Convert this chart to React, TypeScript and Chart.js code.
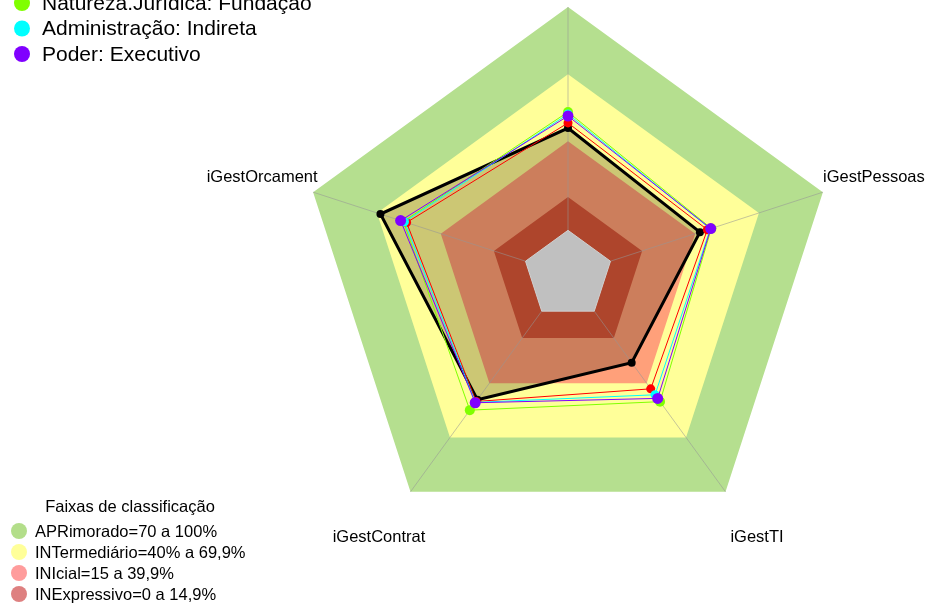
import React, { useEffect, useRef } from "react";
import { Chart, registerables } from "chart.js";

Chart.register(...registerables);

// Axes, clockwise from the top (top label lies outside the picture)
const categories = ["", "iGestPessoas", "iGestTI", "iGestContrat", "iGestOrcament"];

// Classification bands (upper limit of each band, %)
const bandNames = [
  "APRimorado=70 a 100%",
  "INTermediário=40% a 69,9%",
  "INIcial=15 a 39,9%",
  "INExpressivo=0 a 14,9%",
];
const bandLimits = [100, 69.9, 39.9, 14.9];
const bandColors = ["#B5DF8F", "#FFFF99", "#FFA07A", "#D8553A"];
const bandLegendColors = ["#B3DE8A", "#FFFF99", "#FF9C9C", "#DE8080"];

// Series values per axis
const entityValues = [45.8, 42.1, 28.5, 49.0, 68.3];
const geralValues = [48.1, 45.6, 43.0, 50.0, 56.0];
const naturezaValues = [53.0, 47.5, 50.1, 54.8, 57.5];
const administracaoValues = [52.1, 47.0, 46.3, 50.5, 57.0];
const poderValues = [51.2, 47.2, 48.3, 50.7, 58.8];

const legendNames = ["Natureza.Jurídica: Fundação", "Administração: Indireta", "Poder: Executivo"];
const legendColors = ["#80FF00", "#00FFFF", "#8000FF"];
const bandTitle = "Faixas de classificação";

const FONT = '"Liberation Sans", Arial, sans-serif';

const overlayPlugin = {
  id: "overlay",
  beforeDatasetDraw(chart: any, args: any) {
    if (args.index !== 4) return;
    const scale = chart.scales.r;
    const ctx = chart.ctx;
    ctx.save();
    ctx.strokeStyle = "rgba(150,150,150,0.55)";
    ctx.lineWidth = 1;
    for (let i = 0; i < categories.length; i++) {
      const a = scale.getPointPositionForValue(i, 0);
      const b = scale.getPointPositionForValue(i, 100);
      ctx.beginPath();
      ctx.moveTo(a.x, a.y);
      ctx.lineTo(b.x, b.y);
      ctx.stroke();
    }
    ctx.restore();
  },
  afterDraw(chart: any) {
    const scale = chart.scales.r;
    const ctx = chart.ctx;
    ctx.save();
    // axis labels
    ctx.fillStyle = "#000";
    ctx.font = `16.5px ${FONT}`;
    ctx.textAlign = "center";
    ctx.textBaseline = "middle";
    for (let i = 0; i < categories.length; i++) {
      const p = scale.getPointPosition(i, scale.drawingArea * 1.2);
      ctx.fillText(categories[i], p.x, p.y + 2);
    }
    // series legend (top-left)
    ctx.textAlign = "left";
    ctx.font = `21px ${FONT}`;
    legendNames.forEach((name, i) => {
      const y = 3 + i * 25.5;
      ctx.fillStyle = legendColors[i];
      ctx.beginPath();
      ctx.arc(22, y, 8, 0, Math.PI * 2);
      ctx.fill();
      ctx.fillStyle = "#000";
      ctx.fillText(name, 42, y + 1);
    });
    // band legend (bottom-left)
    ctx.font = `16.5px ${FONT}`;
    ctx.textAlign = "center";
    ctx.fillText(bandTitle, 130, 507);
    ctx.textAlign = "left";
    bandNames.forEach((name, i) => {
      const y = 531 + i * 21;
      ctx.fillStyle = bandLegendColors[i];
      ctx.beginPath();
      ctx.arc(19, y, 8, 0, Math.PI * 2);
      ctx.fill();
      ctx.fillStyle = "#000";
      ctx.fillText(name, 35, y + 1);
    });
    ctx.restore();
  },
};

export default function App() {
  const ref = useRef<HTMLCanvasElement>(null);
  useEffect(() => {
    if (!ref.current) return;
    const band = (vals: number, color: string, order: number) => ({
      data: categories.map(() => vals),
      backgroundColor: color,
      borderWidth: 0,
      pointRadius: 0,
      fill: "start",
      order,
    });
    const series = (data: number[], color: string, width: number, radius: number, order: number, fill: any = false, bg = "transparent") => ({
      data,
      borderColor: color,
      borderWidth: width,
      pointRadius: radius,
      pointBackgroundColor: color,
      pointBorderWidth: 0,
      backgroundColor: bg,
      fill,
      order,
    });
    const chart = new Chart(ref.current, {
      type: "radar",
      data: {
        labels: categories,
        datasets: [
          band(bandLimits[0], bandColors[0], 20),
          band(bandLimits[1], bandColors[1], 19),
          band(bandLimits[2], bandColors[2], 18),
          band(bandLimits[3], bandColors[3], 17),
          series(entityValues, "#000000", 3, 4, 16, "origin", "rgba(40,20,0,0.24)"),
          { ...band(0, "#C0C0C0", 15), borderWidth: 1, borderColor: "#CFCFCF" },
          series(geralValues, "#FF0000", 1, 4.5, 14),
          series(naturezaValues, "#80FF00", 1, 5, 13),
          series(administracaoValues, "#00FFFF", 1, 4.5, 12),
          series(poderValues, "#8000FF", 1, 5.5, 11),
        ] as any,
      },
      options: {
        responsive: false,
        animation: false,
        devicePixelRatio: 1,
        layout: { padding: { left: 300, right: 92, top: 7, bottom: 61 } },
        elements: { line: { tension: 0 } },
        plugins: { legend: { display: false }, tooltip: { enabled: false } },
        scales: {
          r: {
            min: -20,
            max: 100,
            ticks: { display: false },
            grid: { display: false },
            angleLines: { display: false },
            pointLabels: { display: false },
          },
        },
      },
      plugins: [overlayPlugin],
    });
    return () => chart.destroy();
  }, []);
  return (
    <div style={{ position: "fixed", left: 0, top: 0, width: 928, height: 604, background: "#fff" }}>
      <canvas ref={ref} width={928} height={604} style={{ width: 928, height: 604 }} />
    </div>
  );
}
